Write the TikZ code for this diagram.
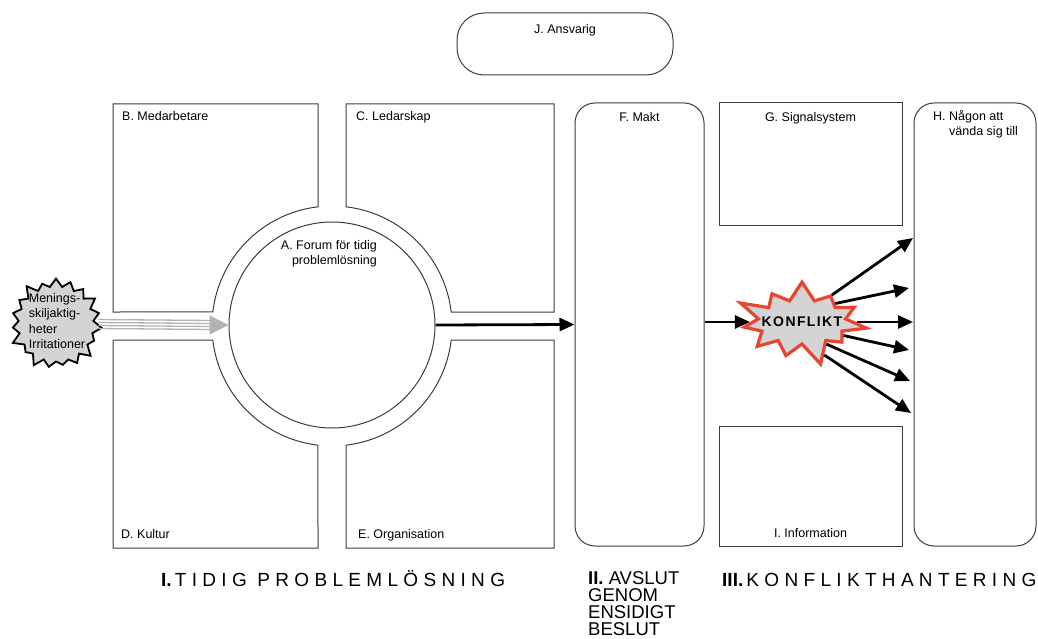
\documentclass[tikz,border=0pt]{standalone}
\usepackage{fontspec}
\setmainfont{Liberation Sans}
\newfontfamily\spacedfont[LetterSpace=28]{Liberation Sans}
\newfontfamily\konfont[LetterSpace=10]{Liberation Sans}
\usetikzlibrary{arrows.meta,positioning,shapes.symbols}
\definecolor{KonfliktRed}{RGB}{232,69,47}
\definecolor{BurstGrey}{RGB}{212,212,212}
\definecolor{ArrowGrey}{RGB}{178,178,178}
\definecolor{LineGrey}{RGB}{60,60,60}

\begin{document}
\begin{tikzpicture}[x=1pt, y=1pt,
        box/.style={draw=LineGrey, line width=1pt},
        rbox/.style={box, rounded corners=20pt},
        lbl/.style={font=\fontsize{12.5}{15.5}\selectfont, inner sep=0pt},
        phase/.style={font=\fontsize{19}{17}\selectfont, inner sep=0pt},
        burst/.style={starburst, inner sep=0pt, line join=miter},
        arr/.style={-{Triangle[length=15pt, width=13pt]}, line width=2.8pt},
        greyline/.style={draw=ArrowGrey, line width=1.3pt}
]
    \useasboundingbox (0,0) rectangle (1038,-639);

    % four fields round the forum
    \draw[box] (113,-104) -- (318,-104) -- (318,-206.8) arc[start angle=96.7, end angle=173.3, radius=120] -- (113,-312) -- cycle;
    \draw[box] (346,-104) -- (554,-104) -- (554,-312) -- (451.2,-312) arc[start angle=6.7, end angle=83.3, radius=120] -- cycle;
    \draw[box] (113,-548) -- (113,-340) -- (212.8,-340) arc[start angle=186.7, end angle=263.3, radius=120] -- (318,-548) -- cycle;
    \draw[box] (554,-548) -- (554,-340) -- (451.2,-340) arc[start angle=353.3, end angle=276.7, radius=120] -- (346,-548) -- cycle;
    \node[lbl, anchor=north west] (medarb) at (122,-111) {B. Medarbetare};
    \node[lbl, anchor=north west] (ledar) at (356,-111) {C. Ledarskap};
    \node[lbl, anchor=north west] (kultur) at (121,-529) {D. Kultur};
    \node[lbl, anchor=north west] (organ) at (358,-529) {E. Organisation};

    \node[circle, box, minimum size=206pt, inner sep=0pt] (forum) at (332,-325) {};
    \node[lbl, anchor=north east, align=right] (forumtext) at (377,-240) {A. Forum för tidig\\problemlösning};

    % right-hand part
    \node[rbox, rounded corners=27pt, minimum width=216pt, minimum height=62pt] (ansvar) at (565,-44) {};
    \node[rbox, minimum width=129pt, minimum height=443pt] (makt) at (639.5,-324.5) {};
    \node[box, minimum width=183pt, minimum height=122pt] (signal) at (810.5,-164) {};
    \node[box, minimum width=183pt, minimum height=120pt] (info) at (810.5,-486) {};
    \node[rbox, minimum width=122pt, minimum height=443pt] (nagon) at (975,-324.5) {};
    \node[lbl, below=12pt of ansvar.north] (ansvartext) {J. Ansvarig};
    \node[lbl, below=10pt of makt.north] (makttext) {F. Makt};
    \node[lbl, below=10pt of signal.north] (signaltext) {G. Signalsystem};
    \node[lbl, above=9pt of info.south] (infotext) {I. Information};
    \node[lbl, anchor=north west, align=left] (nagontext) at (933,-110) {H. Någon att\\\hspace*{16pt}vända sig till};

    % bursts
    \node[burst, starburst points=19, starburst point height=11pt, draw=black, line width=1.8pt,
          fill=BurstGrey, minimum width=97pt, minimum height=97pt] (irr) at (56,-324) {};
    \node[lbl, align=left] (irrtext) at (57,-321) {Menings-\\skiljaktig-\\heter\\Irritationer};
    \node[burst, starburst points=11, starburst point height=25pt, draw=KonfliktRed, line width=3.2pt,
          fill=BurstGrey, minimum width=138pt, minimum height=94pt] (konflikt) at (802,-322) {};
    \node[inner sep=0pt, font=\konfont\bfseries\fontsize{14}{16}\selectfont] (konflikttext) at (konflikt.center) {KONFLIKT};

    % arrows
    \foreach \dy in {-4.5,-1.5,1.5,4.5}
        \draw[greyline] ([yshift=\dy pt]irr.east) -- ([xshift=-16pt, yshift=\dy pt]forum.west);
    \draw[ArrowGrey, line width=1.3pt, -{Triangle[length=19pt, width=19pt]}] ([xshift=-19pt]forum.west) -- (forum.west);
    \draw[arr] (forum.east) -- (makt.west);
    \draw[arr] (konflikt.west -| makt.east) -- (konflikt.west);
    \coordinate (h1) at (913,-238);
    \coordinate (h2) at (909,-288);
    \coordinate (h3) at (913,-322);
    \coordinate (h4) at (909,-350);
    \coordinate (h5) at (910,-381);
    \coordinate (h6) at (911,-413);
    \foreach \a/\h in {42/h1, 29/h2, 0/h3, 342/h4, 318/h5, 304/h6}
        \draw[arr] (konflikt.\a) -- (\h);

    % phases
    \node[phase, anchor=base west] (fas1) at (161,-586) {\textbf{I.}\,{\spacedfont TIDIG PROBLEMLÖSNING}};
    \node[phase, anchor=north west, align=left, font=\fontsize{18.5}{17}\selectfont] (fas2) at (588,-571) {\textbf{II.} AVSLUT\\GENOM\\ENSIDIGT\\BESLUT};
    \node[phase, anchor=base west] (fas3) at (722,-586) {\textbf{III.}\,{\spacedfont KONFLIKTHANTERING}};
\end{tikzpicture}
\end{document}
